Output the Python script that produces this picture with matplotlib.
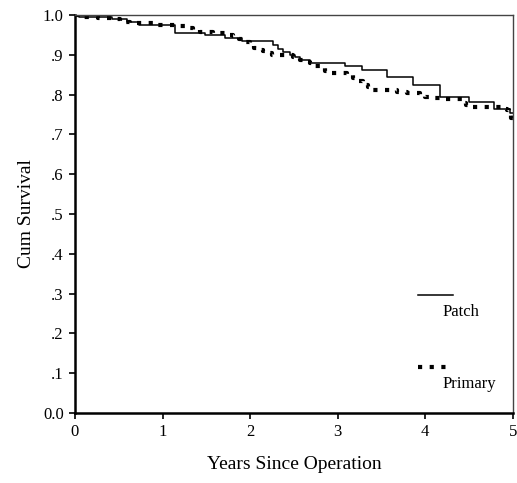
import matplotlib
matplotlib.use("Agg")
import matplotlib.pyplot as plt

# Kaplan-Meier curves (years, cumulative survival)
patch_t = [0.00, 0.05, 0.42, 0.59, 0.73, 1.14, 1.48, 1.71, 1.91, 2.26, 2.32, 2.38,
           2.45, 2.51, 2.57, 2.68, 3.08, 3.28, 3.56, 3.86, 4.17, 4.50, 4.79, 4.97, 5.00]
patch_s = [1.000, 0.996, 0.990, 0.983, 0.975, 0.955, 0.950, 0.943, 0.935, 0.925, 0.915, 0.907,
           0.900, 0.895, 0.887, 0.880, 0.872, 0.862, 0.843, 0.823, 0.795, 0.782, 0.764, 0.754, 0.754]

primary_t = [0.00, 0.08, 0.26, 0.42, 0.51, 0.63, 0.94, 1.20, 1.26, 1.35, 1.43, 1.58, 1.74,
             1.80, 1.87, 1.94, 2.00, 2.04, 2.08, 2.15, 2.20, 2.25, 2.49, 2.57, 2.62, 2.68,
             2.74, 2.80, 2.85, 2.88, 3.11, 3.17, 3.23, 3.29, 3.35, 3.40, 3.68, 3.79, 3.94,
             4.00, 4.05, 4.17, 4.43, 4.47, 4.51, 4.90, 4.93, 4.96, 4.98, 5.00]
primary_s = [1.000, 0.994, 0.992, 0.989, 0.983, 0.981, 0.975, 0.972, 0.967, 0.962, 0.957, 0.954, 0.950,
             0.946, 0.940, 0.933, 0.925, 0.918, 0.912, 0.910, 0.905, 0.899, 0.895, 0.887, 0.883, 0.879,
             0.872, 0.866, 0.860, 0.854, 0.849, 0.841, 0.833, 0.824, 0.818, 0.812, 0.807, 0.805, 0.799,
             0.795, 0.791, 0.788, 0.778, 0.774, 0.770, 0.765, 0.761, 0.752, 0.742, 0.732]

x_ticks = [0, 1, 2, 3, 4, 5]
y_ticks = [0.0, 0.1, 0.2, 0.3, 0.4, 0.5, 0.6, 0.7, 0.8, 0.9, 1.0]
y_labels = ["0.0", ".1", ".2", ".3", ".4", ".5", ".6", ".7", ".8", ".9", "1.0"]

plt.rcParams['font.family'] = ['Liberation Serif', 'DejaVu Serif']

fig = plt.figure(figsize=(5.17, 4.83), dpi=100)
ax = fig.add_axes([0.145, 0.145, 0.847, 0.824])

# the two survival curves
ax.step(patch_t, patch_s, where='post', color='black', lw=1.1)
ax.step(primary_t, primary_s, where='post', color='black', lw=3.0,
        linestyle=(0, (1, 1.8)), dash_capstyle='butt')

ax.set_xlim(0, 5)
ax.set_ylim(0, 1)
ax.set_xticks(x_ticks)
ax.set_yticks(y_ticks)
ax.set_yticklabels(y_labels)
ax.tick_params(direction='out', length=4, width=1.2, labelsize=12, pad=4)

for side in ['left', 'bottom']:
    ax.spines[side].set_linewidth(1.8)
for side in ['top', 'right']:
    ax.spines[side].set_linewidth(1.0)
    ax.spines[side].set_color('#444444')

ax.set_xlabel("Years Since Operation", fontsize=14)
ax.set_ylabel("Cum Survival", fontsize=14)
ax.xaxis.set_label_coords(0.5, -0.108)
ax.yaxis.set_label_coords(-0.092, 0.5)

# hand drawn legend, text below each line sample
ax.plot([0.783, 0.863], [0.296, 0.296], color='black', lw=1.1, transform=ax.transAxes)
ax.text(0.840, 0.254, "Patch", fontsize=12, va='center', ha='left', transform=ax.transAxes)
ax.plot([0.783, 0.863], [0.116, 0.116], color='black', lw=3.0, linestyle=(0, (1, 1.8)),
        dash_capstyle='butt', transform=ax.transAxes)
ax.text(0.840, 0.073, "Primary", fontsize=12, va='center', ha='left', transform=ax.transAxes)

fig.savefig("out.png", dpi=100)
